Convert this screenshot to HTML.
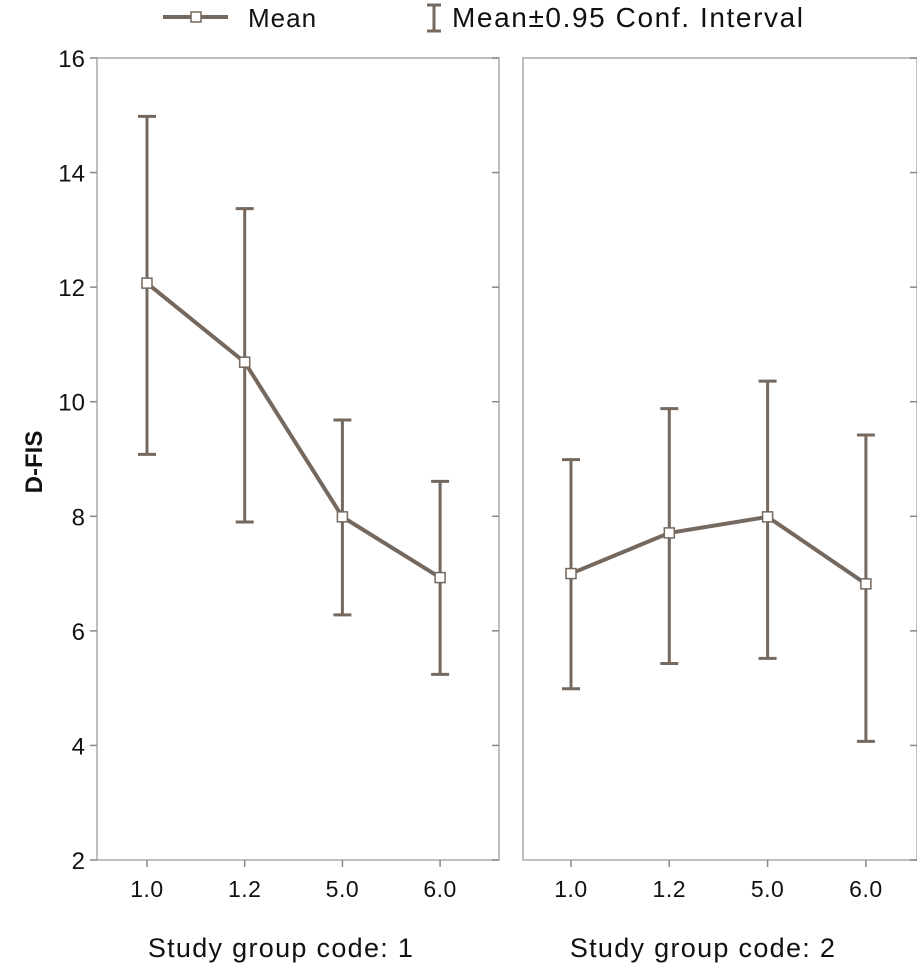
<!DOCTYPE html>
<html><head><meta charset="utf-8"><style>
body{margin:0;background:#fff}
svg text{font-family:"Liberation Sans",sans-serif;fill:#111}
</style></head><body>
<svg width="917" height="972">
<g id="axes"></g><g id="marks"></g>
<g>
<line x1="163" y1="17" x2="228" y2="17" stroke="#75685e" stroke-width="4"/>
<rect x="191" y="12" width="10" height="10" fill="#fff" stroke="#75685e" stroke-width="1.5"/>
<text x="248" y="27" font-size="26" letter-spacing="1">Mean</text>
<line x1="434" y1="5" x2="434" y2="31" stroke="#75685e" stroke-width="3"/>
<line x1="427" y1="5" x2="441" y2="5" stroke="#75685e" stroke-width="3"/>
<line x1="427" y1="31" x2="441" y2="31" stroke="#75685e" stroke-width="3"/>
<text x="452" y="27" font-size="28" letter-spacing="1.6">Mean±0.95 Conf. Interval</text>
</g>
<text transform="translate(42,462) rotate(-90)" text-anchor="middle" font-size="24" font-weight="bold">D-FIS</text>
</svg>
<script>
const categories=["1.0","1.2","5.0","6.0"];
const groups=["Study group code: 1","Study group code: 2"];
const yTicks=[2,4,6,8,10,12,14,16];
const mean1=[12.07,10.69,7.99,6.93];
const upper1=[14.98,13.37,9.68,8.61];
const lower1=[9.08,7.9,6.28,5.24];
const mean2=[7.0,7.71,7.99,6.82];
const upper2=[8.99,9.88,10.36,9.42];
const lower2=[4.99,5.43,5.52,4.07];
const means=[mean1,mean2],uppers=[upper1,upper2],lowers=[lower1,lower2];
const NS="http://www.w3.org/2000/svg";
const panels=[{x0:97,x1:499,xs:147,step:97.7},{x0:523,x1:917,xs:571,step:98.3}];
const Y=v=>860-(v-2)*(802/14);
const C="#75685e";
function mk(p,tag,at){const e=document.createElementNS(NS,tag);for(const k in at)e.setAttribute(k,at[k]);p.appendChild(e);return e;}
const ax=document.getElementById('axes'),mg=document.getElementById('marks');
panels.forEach((P,pi)=>{
 const X=i=>P.xs+i*P.step;
 const fr=mk(ax,'rect',{x:P.x0,y:58,width:P.x1-P.x0,height:802,fill:'none',stroke:'#aaa','stroke-width':1.5});
 
 
 yTicks.forEach(t=>{
  mk(ax,'line',{x1:P.x1-7,x2:P.x1,y1:Y(t),y2:Y(t),stroke:'#888','stroke-width':1.5});
  if(pi==0){mk(ax,'line',{x1:P.x0-7,x2:P.x0,y1:Y(t),y2:Y(t),stroke:'#888','stroke-width':1.5});
   const tx=mk(ax,'text',{x:85,y:Y(t)+9,'text-anchor':'end','font-size':24});tx.textContent=t;
   
   }
 });
 categories.forEach((c,i)=>{
  mk(ax,'line',{x1:X(i),x2:X(i),y1:860,y2:867,stroke:'#888','stroke-width':1.5});
  const tx=mk(ax,'text',{x:X(i),y:897,'text-anchor':'middle','font-size':23,'letter-spacing':0.5});tx.textContent=c;
  
  
 });
 const gt=mk(ax,'text',{x:(P.x0+P.x1)/2-17,y:957,'text-anchor':'middle','font-size':27,'letter-spacing':1.3});gt.textContent=groups[pi];
 
 
 const m=means[pi];
 categories.forEach((c,i)=>{
  const g=mk(mg,'g',{stroke:C,'stroke-width':3});
  
  
  mk(g,'line',{x1:X(i),x2:X(i),y1:Y(uppers[pi][i]),y2:Y(lowers[pi][i])});
  mk(g,'line',{x1:X(i)-9,x2:X(i)+9,y1:Y(uppers[pi][i]),y2:Y(uppers[pi][i])});
  mk(g,'line',{x1:X(i)-9,x2:X(i)+9,y1:Y(lowers[pi][i]),y2:Y(lowers[pi][i])});
 });
 const ln=mk(mg,'polyline',{points:m.map((v,i)=>X(i)+','+Y(v)).join(' '),fill:'none',stroke:C,'stroke-width':4});
 
 
 m.forEach((v,i)=>{
  const r=mk(mg,'rect',{x:X(i)-5,y:Y(v)-5,width:10,height:10,fill:'#fff',stroke:C,'stroke-width':1.5});
  
  
 });
});
</script>
</body></html>
